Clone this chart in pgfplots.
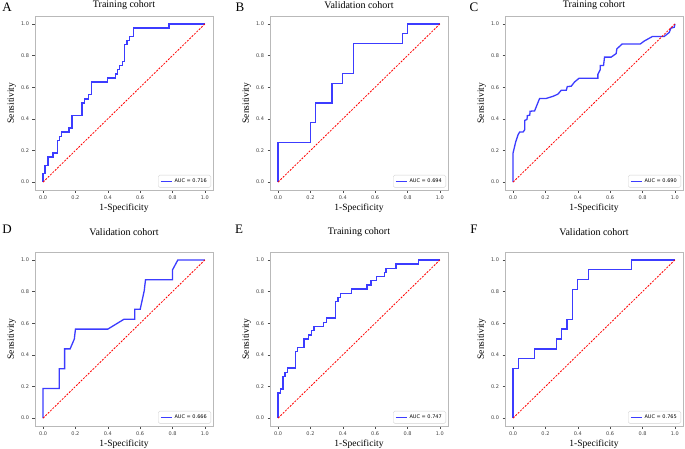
\documentclass[border=0pt]{standalone}
\usepackage{pgfplots}
\pgfplotsset{compat=1.18}
\usepackage{fontspec}
\setmainfont{Liberation Serif}
\newfontfamily\dejavu{DejaVu Sans}
\definecolor{rocblue}{RGB}{60,60,255}
\pgfplotsset{
 legend image code/.code={\draw[rocblue, line width=1.3pt] (0pt,0pt) -- (11pt,0pt);},
 rocax/.style={
  scale only axis, width=178pt, height=174pt, anchor=north west,
  xmin=-0.05,xmax=1.05,ymin=-0.05,ymax=1.05,
  xtick={0,0.2,0.4,0.6,0.8,1}, ytick={0,0.2,0.4,0.6,0.8,1},
  xticklabel style={/pgf/number format/.cd, fixed, fixed zerofill, precision=1, assume math mode=true},
  yticklabel style={/pgf/number format/.cd, fixed, fixed zerofill, precision=1, assume math mode=true},
  tick pos=left, tick align=outside, major tick length=2.5pt,
  every tick/.style={gray!60!black, line width=0.5pt},
  axis line style={gray!55, line width=0.9pt},
  tick label style={font=\dejavu\fontsize{5}{6}\selectfont, text=black!75},
  xlabel={1-Specificity}, ylabel={Sensitivity},
  label style={font=\fontsize{9.5}{11}\selectfont},
  xlabel style={at={(axis description cs:0.5,-0.105)}, anchor=center},
  ylabel style={at={(axis description cs:-0.13,0.5)}, anchor=center},
  legend style={at={(1,0)}, anchor=south east, xshift=-2pt, yshift=2.5pt,
    font=\dejavu\fontsize{5}{6}\selectfont, draw=gray!35, rounded corners=1.5pt,
    inner xsep=2pt, inner ysep=1.5pt},
  legend cell align=left,
  title style={font=\fontsize{10}{12}\selectfont, anchor=center, at={(axis description cs:0.5,1)}},
 },
}
\begin{document}
\begin{tikzpicture}[x=1pt,y=1pt]
\path[use as bounding box] (0pt,0pt) rectangle (685pt,448pt);
% A
\begin{axis}[rocax, at={(35pt,432pt)}, title={Training cohort}, title style={yshift=5pt}]
\addplot[rocblue, line width=1.3pt, no marks] coordinates {(0,0)(0,0.053)(0.012,0.053)(0.012,0.105)(0.031,0.105)(0.031,0.158)(0.062,0.158)(0.062,0.184)(0.087,0.184)(0.087,0.263)(0.1,0.263)(0.1,0.289)(0.114,0.289)(0.114,0.316)(0.16,0.316)(0.16,0.342)(0.178,0.342)(0.178,0.421)(0.241,0.421)(0.241,0.5)(0.255,0.5)(0.255,0.526)(0.282,0.526)(0.282,0.553)(0.297,0.553)(0.297,0.632)(0.4,0.632)(0.4,0.658)(0.446,0.658)(0.446,0.684)(0.461,0.684)(0.461,0.711)(0.473,0.711)(0.473,0.737)(0.49,0.737)(0.49,0.763)(0.504,0.763)(0.504,0.868)(0.519,0.868)(0.519,0.895)(0.535,0.895)(0.535,0.921)(0.56,0.921)(0.56,0.974)(0.778,0.974)(0.778,1)(1,1)};
\addlegendentry{AUC = 0.716}
\addplot[red, dash pattern=on 2pt off 1.3pt, line width=0.8pt, no marks, forget plot] coordinates {(0,0)(1,1)};
\end{axis}
% B
\begin{axis}[rocax, at={(270pt,432pt)}, title={Validation cohort}, title style={yshift=5pt}]
\addplot[rocblue, line width=1.3pt, no marks] coordinates {(0,0)(0,0.25)(0.2,0.25)(0.2,0.375)(0.233,0.375)(0.233,0.5)(0.333,0.5)(0.333,0.625)(0.4,0.625)(0.4,0.6875)(0.467,0.6875)(0.467,0.875)(0.767,0.875)(0.767,0.9375)(0.8,0.9375)(0.8,1)(1,1)};
\addlegendentry{AUC = 0.694}
\addplot[red, dash pattern=on 2pt off 1.3pt, line width=0.8pt, no marks, forget plot] coordinates {(0,0)(1,1)};
\end{axis}
% C
\begin{axis}[rocax, at={(505pt,432pt)}, title={Training cohort}, title style={yshift=5pt}]
\addplot[rocblue, line width=1.3pt, no marks] coordinates {(0,0)(0,0.185)(0.016,0.254)(0.031,0.30)(0.041,0.317)(0.062,0.317)(0.072,0.331)(0.072,0.39)(0.086,0.396)(0.088,0.42)(0.103,0.423)(0.105,0.448)(0.133,0.45)(0.164,0.529)(0.205,0.529)(0.246,0.542)(0.277,0.556)(0.298,0.581)(0.329,0.581)(0.335,0.604)(0.359,0.606)(0.38,0.633)(0.407,0.656)(0.524,0.656)(0.524,0.681)(0.538,0.71)(0.538,0.7375)(0.559,0.7375)(0.565,0.79)(0.606,0.79)(0.637,0.8125)(0.641,0.842)(0.674,0.873)(0.786,0.873)(0.811,0.892)(0.862,0.921)(0.934,0.921)(0.965,0.946)(0.975,0.973)(0.996,0.979)(1,1)};
\addlegendentry{AUC = 0.690}
\addplot[red, dash pattern=on 2pt off 1.3pt, line width=0.8pt, no marks, forget plot] coordinates {(0,0)(1,1)};
\end{axis}
% D
\begin{axis}[rocax, at={(35pt,196pt)}, title={Validation cohort}, title style={yshift=14pt}]
\addplot[rocblue, line width=1.3pt, no marks] coordinates {(0,0)(0,0.1875)(0.1,0.1875)(0.1,0.3125)(0.133,0.3125)(0.133,0.4375)(0.167,0.4375)(0.193,0.5)(0.2,0.5625)(0.4,0.5625)(0.5,0.625)(0.567,0.625)(0.567,0.6875)(0.6,0.6875)(0.625,0.805)(0.633,0.875)(0.8,0.875)(0.8,0.9375)(0.833,1)(1,1)};
\addlegendentry{AUC = 0.666}
\addplot[red, dash pattern=on 2pt off 1.3pt, line width=0.8pt, no marks, forget plot] coordinates {(0,0)(1,1)};
\end{axis}
% E
\begin{axis}[rocax, at={(270pt,196pt)}, title={Training cohort}, title style={yshift=14pt}]
\addplot[rocblue, line width=1.3pt, no marks] coordinates {(0,0)(0,0.158)(0.014,0.158)(0.014,0.184)(0.031,0.184)(0.031,0.263)(0.043,0.263)(0.043,0.289)(0.057,0.289)(0.057,0.316)(0.109,0.316)(0.109,0.421)(0.119,0.421)(0.119,0.447)(0.16,0.447)(0.16,0.5)(0.189,0.5)(0.189,0.526)(0.205,0.526)(0.205,0.553)(0.222,0.553)(0.222,0.579)(0.281,0.579)(0.281,0.605)(0.298,0.605)(0.298,0.632)(0.355,0.632)(0.355,0.737)(0.37,0.737)(0.37,0.763)(0.384,0.763)(0.384,0.789)(0.452,0.789)(0.452,0.816)(0.55,0.816)(0.55,0.842)(0.575,0.842)(0.575,0.868)(0.606,0.868)(0.606,0.895)(0.657,0.895)(0.657,0.921)(0.667,0.921)(0.667,0.947)(0.729,0.947)(0.729,0.974)(0.867,0.974)(0.867,1)(1,1)};
\addlegendentry{AUC = 0.747}
\addplot[red, dash pattern=on 2pt off 1.3pt, line width=0.8pt, no marks, forget plot] coordinates {(0,0)(1,1)};
\end{axis}
% F
\begin{axis}[rocax, at={(505pt,196pt)}, title={Validation cohort}, title style={yshift=14pt}]
\addplot[rocblue, line width=1.3pt, no marks] coordinates {(0,0)(0,0.3125)(0.033,0.3125)(0.033,0.375)(0.133,0.375)(0.133,0.4375)(0.267,0.4375)(0.267,0.5)(0.3,0.5)(0.3,0.5625)(0.333,0.5625)(0.333,0.625)(0.367,0.625)(0.367,0.8125)(0.4,0.8125)(0.4,0.875)(0.467,0.875)(0.467,0.9375)(0.733,0.9375)(0.733,1)(1,1)};
\addlegendentry{AUC = 0.765}
\addplot[red, dash pattern=on 2pt off 1.3pt, line width=0.8pt, no marks, forget plot] coordinates {(0,0)(1,1)};
\end{axis}
% panel letters
\node[font=\fontsize{13}{14}\selectfont] at (7pt,441pt) {A};
\node[font=\fontsize{13}{14}\selectfont] at (240pt,441pt) {B};
\node[font=\fontsize{13}{14}\selectfont] at (474pt,441pt) {C};
\node[font=\fontsize{13}{14}\selectfont] at (7pt,219pt) {D};
\node[font=\fontsize{13}{14}\selectfont] at (239pt,219pt) {E};
\node[font=\fontsize{13}{14}\selectfont] at (474pt,219pt) {F};
\end{tikzpicture}
\end{document}
